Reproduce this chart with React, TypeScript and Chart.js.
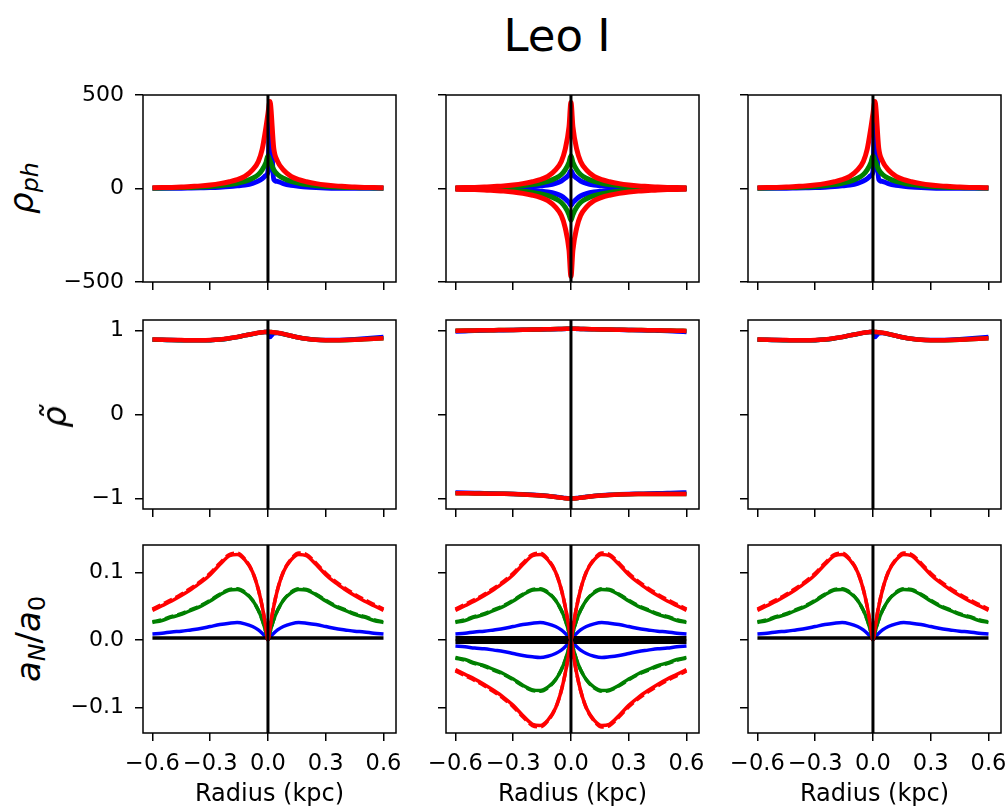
import React, { useEffect, useRef } from "react";
import { Chart, registerables } from "chart.js";
Chart.register(...registerables);

// ---------- data ----------
const xs = [-0.6, -0.55, -0.5, -0.45, -0.4, -0.35, -0.3, -0.25, -0.2, -0.16, -0.12, -0.08, -0.05, -0.03, -0.01, 0, 0.01, 0.03, 0.05, 0.08, 0.12, 0.16, 0.2, 0.25, 0.3, 0.35, 0.4, 0.45, 0.5, 0.55, 0.6];
const hx = [-0.6, 0.6];
const vx = [0, 0];

// row 1: rho_ph
const rhoRed1 = [4, 5, 6, 8, 11, 14, 19, 26, 36, 47, 65, 100, 145, 210, 330, 400, 465, 215, 145, 100, 65, 47, 36, 26, 19, 14, 11, 8, 6, 5, 4];
const rhoGreen1 = [2, 3, 4, 5, 6, 8, 11, 15, 21, 28, 38, 55, 75, 100, 140, 175, 150, 100, 75, 55, 38, 28, 21, 15, 11, 8, 6, 5, 4, 3, 2];
const rhoBlue1 = [1, 1, 2, 2, 3, 4, 5, 7, 10, 14, 19, 28, 40, 52, 70, 90, 380, 50, 38, 26, 17, 12, 8, 5, 3, 2, 2, 1, 1, 1, 1];
const rhoRed2U = [4, 5, 6, 8, 11, 14, 19, 26, 36, 47, 65, 100, 145, 210, 330, 460, 330, 210, 145, 100, 65, 47, 36, 26, 19, 14, 11, 8, 6, 5, 4];
const rhoRed2D = [-4, -5, -6, -8, -11, -14, -19, -26, -36, -47, -65, -100, -145, -210, -330, -470, -330, -210, -145, -100, -65, -47, -36, -26, -19, -14, -11, -8, -6, -5, -4];
const rhoGreen2U = [2, 3, 4, 5, 6, 8, 11, 15, 21, 28, 38, 55, 75, 100, 140, 175, 140, 100, 75, 55, 38, 28, 21, 15, 11, 8, 6, 5, 4, 3, 2];
const rhoGreen2D = [-2, -3, -4, -5, -6, -8, -11, -15, -21, -28, -38, -55, -75, -100, -140, -170, -140, -100, -75, -55, -38, -28, -21, -15, -11, -8, -6, -5, -4, -3, -2];
const rhoBlue2U = [1, 1, 2, 2, 3, 4, 5, 7, 10, 14, 19, 28, 40, 55, 75, 95, 75, 55, 40, 28, 19, 14, 10, 7, 5, 4, 3, 2, 2, 1, 1];
const rhoBlue2D = [-1, -1, -2, -2, -3, -4, -5, -7, -10, -14, -19, -28, -40, -55, -75, -90, -75, -55, -40, -28, -19, -14, -10, -7, -5, -4, -3, -2, -2, -1, -1];

// row 2: rho tilde
const tRed1 = [0.895, 0.893, 0.89, 0.888, 0.886, 0.886, 0.888, 0.895, 0.91, 0.925, 0.945, 0.962, 0.975, 0.982, 0.986, 0.988, 0.986, 0.982, 0.975, 0.962, 0.94, 0.92, 0.905, 0.892, 0.887, 0.886, 0.888, 0.892, 0.898, 0.904, 0.91];
const tGreen1 = [0.894, 0.892, 0.889, 0.887, 0.885, 0.885, 0.887, 0.894, 0.909, 0.924, 0.944, 0.961, 0.974, 0.981, 0.985, 0.987, 0.985, 0.981, 0.974, 0.961, 0.939, 0.919, 0.904, 0.891, 0.886, 0.885, 0.887, 0.891, 0.897, 0.903, 0.909];
const tBlue1 = [0.893, 0.891, 0.888, 0.886, 0.885, 0.885, 0.887, 0.894, 0.909, 0.924, 0.944, 0.961, 0.974, 0.981, 0.985, 0.987, 0.925, 0.97, 0.972, 0.961, 0.94, 0.92, 0.905, 0.893, 0.889, 0.889, 0.892, 0.898, 0.906, 0.915, 0.925];
const tRed2U = [1.0, 1.002, 1.004, 1.005, 1.007, 1.008, 1.01, 1.012, 1.014, 1.016, 1.018, 1.02, 1.022, 1.023, 1.024, 1.025, 1.024, 1.023, 1.022, 1.02, 1.018, 1.016, 1.014, 1.012, 1.01, 1.008, 1.006, 1.005, 1.003, 1.001, 0.998];
const tBlue2U = [0.99, 0.995, 1.0, 1.003, 1.005, 1.007, 1.009, 1.011, 1.013, 1.015, 1.017, 1.019, 1.021, 1.022, 1.023, 1.024, 1.023, 1.022, 1.021, 1.019, 1.017, 1.015, 1.013, 1.011, 1.009, 1.007, 1.004, 1.0, 0.996, 0.99, 0.985];
const tRed2D = [-0.94, -0.941, -0.942, -0.944, -0.945, -0.947, -0.95, -0.954, -0.96, -0.966, -0.974, -0.984, -0.993, -0.999, -1.003, -1.005, -1.003, -0.999, -0.993, -0.984, -0.974, -0.966, -0.96, -0.955, -0.952, -0.95, -0.949, -0.948, -0.948, -0.948, -0.948];
const tBlue2D = [-0.93, -0.933, -0.936, -0.939, -0.942, -0.945, -0.948, -0.952, -0.958, -0.964, -0.972, -0.982, -0.991, -0.997, -1.001, -1.003, -1.001, -0.997, -0.991, -0.982, -0.972, -0.964, -0.958, -0.953, -0.949, -0.946, -0.943, -0.94, -0.937, -0.934, -0.93];

// row 3: a_N / a_0
const aRed1 = [0.044, 0.051, 0.058, 0.066, 0.075, 0.085, 0.097, 0.112, 0.125, 0.127, 0.119, 0.101, 0.075, 0.05, 0.018, 0, 0.018, 0.05, 0.075, 0.101, 0.119, 0.127, 0.125, 0.112, 0.097, 0.085, 0.075, 0.066, 0.058, 0.051, 0.044];
const aRedD1 = [0.046, 0.053, 0.06, 0.068, 0.077, 0.087, 0.099, 0.114, 0.127, 0.129, 0.12, 0.101, 0.075, 0.05, 0.018, 0, 0.018, 0.05, 0.075, 0.101, 0.12, 0.129, 0.127, 0.114, 0.099, 0.087, 0.077, 0.068, 0.06, 0.053, 0.046];
const aGreen1 = [0.026, 0.029, 0.034, 0.038, 0.044, 0.05, 0.058, 0.067, 0.074, 0.075, 0.07, 0.059, 0.044, 0.03, 0.011, 0, 0.011, 0.03, 0.044, 0.059, 0.07, 0.075, 0.074, 0.067, 0.058, 0.05, 0.044, 0.038, 0.034, 0.029, 0.026];
const aGreenD1 = [0.027, 0.03, 0.035, 0.039, 0.045, 0.051, 0.059, 0.068, 0.075, 0.076, 0.071, 0.059, 0.044, 0.03, 0.011, 0, 0.011, 0.03, 0.044, 0.059, 0.071, 0.076, 0.075, 0.068, 0.059, 0.051, 0.045, 0.039, 0.035, 0.03, 0.027];
const aBlue1 = [0.009, 0.01, 0.012, 0.013, 0.015, 0.017, 0.02, 0.023, 0.025, 0.026, 0.024, 0.02, 0.015, 0.01, 0.004, 0, 0.004, 0.01, 0.015, 0.02, 0.024, 0.026, 0.025, 0.023, 0.02, 0.017, 0.015, 0.013, 0.012, 0.01, 0.009];
const aRedN2 = [-0.044, -0.051, -0.058, -0.066, -0.075, -0.085, -0.097, -0.112, -0.125, -0.127, -0.119, -0.101, -0.075, -0.05, -0.018, 0, -0.018, -0.05, -0.075, -0.101, -0.119, -0.127, -0.125, -0.112, -0.097, -0.085, -0.075, -0.066, -0.058, -0.051, -0.044];
const aRedDN2 = [-0.046, -0.053, -0.06, -0.068, -0.077, -0.087, -0.099, -0.114, -0.127, -0.129, -0.12, -0.101, -0.075, -0.05, -0.018, 0, -0.018, -0.05, -0.075, -0.101, -0.12, -0.129, -0.127, -0.114, -0.099, -0.087, -0.077, -0.068, -0.06, -0.053, -0.046];
const aGreenN2 = [-0.026, -0.029, -0.034, -0.038, -0.044, -0.05, -0.058, -0.067, -0.074, -0.075, -0.07, -0.059, -0.044, -0.03, -0.011, 0, -0.011, -0.03, -0.044, -0.059, -0.07, -0.075, -0.074, -0.067, -0.058, -0.05, -0.044, -0.038, -0.034, -0.029, -0.026];
const aGreenDN2 = [-0.027, -0.03, -0.035, -0.039, -0.045, -0.051, -0.059, -0.068, -0.075, -0.076, -0.071, -0.059, -0.044, -0.03, -0.011, 0, -0.011, -0.03, -0.044, -0.059, -0.071, -0.076, -0.075, -0.068, -0.059, -0.051, -0.045, -0.039, -0.035, -0.03, -0.027];
const aBlueN2 = [-0.009, -0.01, -0.012, -0.013, -0.015, -0.017, -0.02, -0.023, -0.025, -0.026, -0.024, -0.02, -0.015, -0.01, -0.004, 0, -0.004, -0.01, -0.015, -0.02, -0.024, -0.026, -0.025, -0.023, -0.02, -0.017, -0.015, -0.013, -0.012, -0.01, -0.009];
const aBlack1 = [0.003, 0.003];
const aBlackU2 = [0.0025, 0.0025];
const aBlackD2 = [-0.0025, -0.0025];

// axes
const xTicks = [-0.6, -0.3, 0, 0.3, 0.6];
const xRange = [-0.649, 0.665];
const rhoTicks = [-500, 0, 500];
const rhoRange = [-500, 500];
const tildeTicks = [-1, 0, 1];
const tildeRange = [-1.128, 1.128];
const accTicks = [-0.1, 0, 0.1];
const accRange = [-0.138, 0.141];
const xLabel = "Radius (kpc)";
const title = "Leo I";

// ---------- layout ----------
const FONT = "DejaVu Sans";
const COL_LEFT = [143, 446, 748];
const PLOT_W = 253;
const ROW_TOP = [95, 320, 545];
const ROW_H = [187, 189, 188];
const XH = [12, 12, 74];
const YW = 90;
const PADT = 14;
const PADR = 14;

const RED = "#ff0000";
const GREEN = "#008000";
const BLUE = "#0000ff";
const BLACK = "#000000";
const LW = [5, 4.5, 3.5];
const VW = 3;

type Series = { x: number[]; y: number[]; color: string; width: number; order: number; dash?: number[]; smooth: boolean };

function c(y: number[], color: string, width: number, order: number, dash?: number[]): Series {
  return { x: xs, y, color, width, order, dash, smooth: true };
}
function straight(x: number[], y: number[], color: string, width: number, order: number): Series {
  return { x, y, color, width, order, smooth: false };
}

const rowRanges = [rhoRange, tildeRange, accRange];
const rowTicks = [rhoTicks, tildeTicks, accTicks];
const rowDec = [0, 0, 1];

function panelSeries(r: number, col: number): Series[] {
  const w = LW[r];
  const v = straight(vx, rowRanges[r], BLACK, VW, 0);
  if (r === 0) {
    if (col === 1)
      return [v, c(rhoRed2U, RED, w, 1), c(rhoRed2D, RED, w, 1), c(rhoGreen2U, GREEN, w, 2), c(rhoGreen2D, GREEN, w, 2), c(rhoBlue2U, BLUE, w, 3), c(rhoBlue2D, BLUE, w, 3)];
    return [v, c(rhoRed1, RED, w, 1), c(rhoGreen1, GREEN, w, 2), c(rhoBlue1, BLUE, w, 3)];
  }
  if (r === 1) {
    if (col === 1)
      return [v, c(tRed2U, RED, w, 1), c(tRed2D, RED, w, 1), c(tRed2U, GREEN, w, 2), c(tRed2D, GREEN, w, 2), c(tBlue2U, BLUE, w, 3), c(tBlue2D, BLUE, w, 3)];
    return [v, c(tRed1, RED, w, 1), c(tGreen1, GREEN, w, 2), c(tBlue1, BLUE, w, 3)];
  }
  const dash = [9, 4];
  if (col === 1)
    return [
      v,
      c(aRed1, RED, w, 1), c(aRedD1, RED, w, 1, dash), c(aRedN2, RED, w, 1), c(aRedDN2, RED, w, 1, dash),
      straight(hx, aBlackU2, BLACK, 4.5, 2), straight(hx, aBlackD2, BLACK, 4.5, 2),
      c(aGreen1, GREEN, w, 3), c(aGreenD1, GREEN, w, 3, dash), c(aGreenN2, GREEN, w, 3), c(aGreenDN2, GREEN, w, 3, dash),
      c(aBlue1, BLUE, w, 4), c(aBlueN2, BLUE, w, 4),
    ];
  return [
    v,
    c(aRed1, RED, w, 1), c(aRedD1, RED, w, 1, dash),
    straight(hx, aBlack1, BLACK, w, 2),
    c(aGreen1, GREEN, w, 3), c(aGreenD1, GREEN, w, 3, dash),
    c(aBlue1, BLUE, w, 4),
  ];
}

function fmt(v: number, d: number) {
  const s = Math.abs(v).toFixed(d);
  return (v < -1e-12 ? "\u2212" : "") + s;
}

const framePlugin = {
  id: "frame",
  afterDatasetsDraw(chart: any) {
    const { ctx, chartArea: a } = chart;
    ctx.save();
    ctx.strokeStyle = "#000";
    ctx.lineWidth = 1.5;
    ctx.strokeRect(a.left, a.top, a.right - a.left, a.bottom - a.top);
    ctx.restore();
  },
};

function makeConfig(r: number, col: number): any {
  const series = panelSeries(r, col);
  const gridOpts = { display: true, drawOnChartArea: false, drawTicks: true, tickLength: 8, color: "#000", lineWidth: 1.5 };
  return {
    type: "line",
    data: {
      datasets: series.map((s) => ({
        data: s.x.map((x, i) => ({ x, y: s.y[i] })),
        borderColor: s.color,
        backgroundColor: s.color,
        borderWidth: s.width,
        borderDash: s.dash || [],
        borderJoinStyle: "round",
        pointRadius: 0,
        fill: false,
        order: s.order,
        clip: 0,
        tension: 0,
        cubicInterpolationMode: s.smooth ? "monotone" : "default",
      })),
    },
    options: {
      responsive: false,
      animation: false,
      devicePixelRatio: 1,
      events: [],
      layout: { padding: { left: 0, top: PADT, right: PADR, bottom: 0 } },
      plugins: { legend: { display: false }, tooltip: { enabled: false }, title: { display: false } },
      scales: {
        x: {
          type: "linear",
          min: xRange[0],
          max: xRange[1],
          afterBuildTicks: (s: any) => { s.ticks = xTicks.map((v) => ({ value: v })); },
          afterFit: (s: any) => { s.height = XH[r]; s.paddingLeft = 0; s.paddingRight = 0; },
          grid: gridOpts,
          border: { display: false },
          ticks: {
            display: r === 2,
            autoSkip: false,
            minRotation: 0,
            maxRotation: 0,
            padding: 10,
            color: "#000",
            font: { family: FONT, size: 22.5 },
            callback: (v: any) => fmt(Number(v), 1),
          },
          title: { display: r === 2, text: xLabel, color: "#000", padding: { top: 0, bottom: -2 }, font: { family: FONT, size: 24 } },
        },
        y: {
          type: "linear",
          min: rowRanges[r][0],
          max: rowRanges[r][1],
          afterBuildTicks: (s: any) => { s.ticks = rowTicks[r].map((v) => ({ value: v })); },
          afterFit: (s: any) => { s.width = YW; s.paddingTop = 0; s.paddingBottom = 0; },
          grid: gridOpts,
          border: { display: false },
          ticks: {
            display: col === 0,
            padding: 11,
            color: "#000",
            font: { family: FONT, size: 22 },
            callback: (v: any) => fmt(Number(v), rowDec[r]),
          },
        },
      },
    },
    plugins: [framePlugin],
  };
}

const panels: { r: number; col: number }[] = [];
for (let r = 0; r < 3; r++) for (let col = 0; col < 3; col++) panels.push({ r, col });

export default function App() {
  const refs = useRef<(HTMLCanvasElement | null)[]>([]);
  useEffect(() => {
    const charts = panels.map((p, i) => new Chart(refs.current[i] as HTMLCanvasElement, makeConfig(p.r, p.col)));
    return () => charts.forEach((ch) => ch.destroy());
  }, []);

  const lbl = (cx: number, cy: number, content: React.ReactNode) => (
    <div
      style={{
        position: "absolute",
        left: cx,
        top: cy,
        transform: "translate(-50%, -50%) rotate(-90deg)",
        fontFamily: FONT,
        fontSize: 34,
        lineHeight: "34px",
        whiteSpace: "nowrap",
        color: "#000",
      }}
    >
      {content}
    </div>
  );
  const sub = (t: string, italic: boolean) => (
    <span style={{ fontSize: "0.7em", verticalAlign: "-0.2em", lineHeight: 0, fontStyle: italic ? "italic" : "normal" }}>{t}</span>
  );

  return (
    <div style={{ position: "absolute", left: 0, top: 0, width: 1008, height: 807, overflow: "hidden", background: "#fff" }}>
      {panels.map((p, i) => {
        const w = YW + PLOT_W + PADR;
        const h = PADT + ROW_H[p.r] + XH[p.r];
        return (
          <canvas
            key={i}
            ref={(el) => { refs.current[i] = el; }}
            width={w}
            height={h}
            style={{ position: "absolute", left: COL_LEFT[p.col] - YW, top: ROW_TOP[p.r] - PADT, width: w, height: h }}
          />
        );
      })}
      <div
        style={{
          position: "absolute",
          left: 457,
          top: 13,
          width: 200,
          textAlign: "center",
          fontFamily: FONT,
          fontSize: 45,
          lineHeight: "46px",
          color: "#000",
        }}
      >
        {title}
      </div>
      {lbl(21, 188, <><i>ρ</i>{sub("ph", true)}</>)}
      {lbl(54, 417, <i>{"\u03C1\u0303"}</i>)}
      {lbl(28, 639, <><i>a</i>{sub("N", true)}/<i>a</i>{sub("0", false)}</>)}
    </div>
  );
}
